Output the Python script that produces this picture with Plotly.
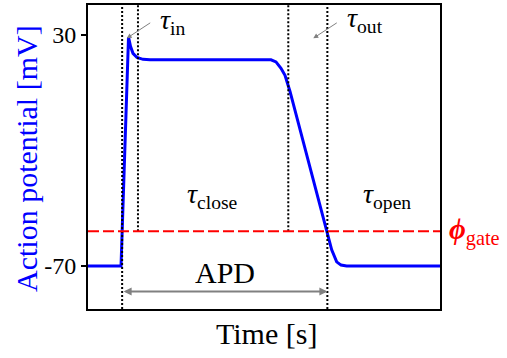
import plotly.graph_objects as go

# Action potential trace (arbitrary time units, 0..1)
time = [0.0, 0.0938, 0.1151, 0.1207, 0.1278, 0.1392, 0.1563, 0.1761,
        0.5199, 0.5341, 0.5483, 0.5597, 0.5739, 0.6781, 0.6923, 0.7065,
        0.7188, 0.7349, 1.0]
voltage = [-70, -70, 29, 25, 22, 20.2, 19.4, 19.2,
           19.2, 18.3, 15.5, 12.5, 5.5, -54.5, -63, -68.2,
           -69.6, -70, -70]

# Event times and threshold
t_start = 0.097
t_in_end = 0.142
t_out_start = 0.569
t_end = 0.680
phi_gate = -55

ytick_vals = [30, -70]
ytick_text = ["30", "-70"]

FONT = "Liberation Serif"

fig = go.Figure()
fig.add_trace(go.Scatter(x=time, y=voltage, mode="lines",
                         line=dict(color="#0000ff", width=3),
                         showlegend=False, hoverinfo="skip"))

shapes = []
dot = dict(color="black", width=2, dash="2px,2px")
for t in (t_start, t_end):
    shapes.append(dict(type="line", xref="x", yref="paper", x0=t, x1=t,
                       y0=0, y1=1, line=dot))
for t in (t_in_end, t_out_start):
    shapes.append(dict(type="line", xref="x", yref="y", x0=t, x1=t,
                       y0=phi_gate, y1=42.9, line=dot))
shapes.append(dict(type="line", xref="paper", yref="y", x0=0, x1=1,
                   y0=phi_gate, y1=phi_gate,
                   line=dict(color="#ff0000", width=2, dash="11px,4px")))

ann = []
afont = dict(family=FONT, size=28, color="black")
ann.append(dict(x=0.199, y=35.8, xref="x", yref="y", text="<i>τ</i><sub>in</sub>",
                showarrow=False, xanchor="left", yanchor="middle", font=afont))
ann.append(dict(x=0.730, y=36.6, xref="x", yref="y", text="<i>τ</i><sub>out</sub>",
                showarrow=False, xanchor="left", yanchor="middle", font=afont))
ann.append(dict(x=0.355, y=-39.5, xref="x", yref="y", text="<i>τ</i><sub>close</sub>",
                showarrow=False, xanchor="center", yanchor="middle", font=afont))
ann.append(dict(x=0.849, y=-39.5, xref="x", yref="y", text="<i>τ</i><sub>open</sub>",
                showarrow=False, xanchor="center", yanchor="middle", font=afont))
ann.append(dict(x=0.389, y=-72.8, xref="x", yref="y", text="APD",
                showarrow=False, xanchor="center", yanchor="middle",
                font=dict(family=FONT, size=30, color="black")))
ann.append(dict(x=1.020, y=phi_gate, xref="paper", yref="y",
                text="<b><i>ϕ</i></b><sub>gate</sub>",
                showarrow=False, xanchor="left", yanchor="middle",
                font=dict(family=FONT, size=29, color="#ff0000")))
# arrows
ann.append(dict(x=0.110, y=28.5, xref="x", yref="y", ax=0.181, ay=35.6,
                axref="x", ayref="y", text="", showarrow=True,
                arrowhead=2, arrowsize=1, arrowwidth=1, arrowcolor="#808080"))
ann.append(dict(x=0.640, y=28.5, xref="x", yref="y", ax=0.711, ay=35.6,
                axref="x", ayref="y", text="", showarrow=True,
                arrowhead=2, arrowsize=1, arrowwidth=1, arrowcolor="#808080"))
ann.append(dict(x=t_end, y=-81, xref="x", yref="y", ax=t_start, ay=-81,
                axref="x", ayref="y", text="", showarrow=True,
                arrowhead=2, startarrowhead=2, arrowside="end+start",
                arrowsize=0.8, arrowwidth=2, arrowcolor="#808080"))
# axis titles
ann.append(dict(x=(27 - 88) / 352, y=0.4935, xref="paper", yref="paper",
                text="Action potential [mV]", textangle=-90, showarrow=False,
                xanchor="center", yanchor="middle",
                font=dict(family=FONT, size=30, color="#0000ff")))
ann.append(dict(x=0.508, y=-0.081, xref="paper", yref="paper",
                text="Time [s]", showarrow=False,
                xanchor="center", yanchor="middle",
                font=dict(family=FONT, size=30, color="black")))

fig.update_layout(
    width=507, height=358,
    margin=dict(l=88, r=67, t=3, b=49),
    plot_bgcolor="white", paper_bgcolor="white",
    shapes=shapes, annotations=ann,
    xaxis=dict(range=[0, 1], showticklabels=False, ticks="", showgrid=False,
               zeroline=False, showline=True, mirror=True,
               linecolor="black", linewidth=2),
    yaxis=dict(range=[-88.6, 42.9], tickvals=ytick_vals, ticktext=ytick_text,
               ticks="outside", ticklen=5, tickwidth=1.5, tickcolor="black",
               showgrid=False, zeroline=False, showline=True, mirror=True,
               linecolor="black", linewidth=2,
               tickfont=dict(family=FONT, size=24, color="black")),
)

fig.write_html("out.html", config={"displayModeBar": False},
               post_script="document.body.style.margin='0';")
